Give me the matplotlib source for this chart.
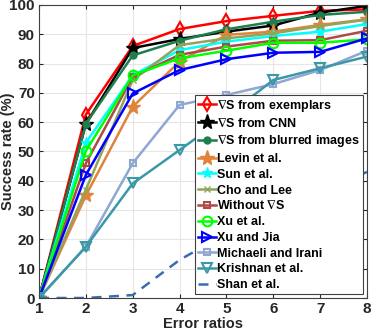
import matplotlib
matplotlib.use("Agg")
import matplotlib.pyplot as plt

plt.rcParams["font.family"] = ["Liberation Sans", "DejaVu Sans"]
plt.rcParams["font.weight"] = "bold"
plt.rcParams["mathtext.default"] = "regular"

error_ratios = [1, 2, 3, 4, 5, 6, 7, 8]

# success rates (%)
exemplars = [0, 62.6, 86.0, 91.8, 94.5, 96.3, 98.0, 98.5]
cnn = [0, 59.4, 85.3, 88.4, 90.9, 93.0, 97.4, 99.7]
blurred = [0, 59.5, 82.8, 87.8, 91.7, 94.3, 96.6, 97.7]
levin = [0, 35.0, 65.3, 80.7, 89.8, 90.9, 93.2, 95.1]
sun = [0, 53.0, 76.0, 84.6, 87.5, 89.4, 90.9, 93.5]
cho = [0, 37.0, 74.4, 86.3, 88.6, 90.3, 92.8, 95.0]
without = [0, 46.0, 75.5, 83.0, 85.8, 87.8, 88.0, 91.2]
xu = [0, 50.2, 76.0, 81.8, 84.4, 87.1, 87.1, 88.3]
xu_jia = [0, 42.0, 69.8, 77.8, 81.5, 83.7, 84.0, 88.6]
michaeli = [0, 17.5, 46.0, 65.9, 69.3, 73.0, 77.8, 84.4]
krishnan = [0, 17.5, 39.1, 50.5, 62.0, 74.4, 78.4, 82.4]
shan = [0, 0, 1.0, 13.0, 22.0, 30.0, 36.5, 43.0]

labels = [
    r"$\nabla$S from exemplars",
    r"$\nabla$S from CNN",
    r"$\nabla$S from blurred images",
    "Levin et al.",
    "Sun et al.",
    "Cho and Lee",
    r"Without $\nabla$S",
    "Xu et al.",
    "Xu and Jia",
    "Michaeli and Irani",
    "Krishnan et al.",
    "Shan et al.",
]

fig = plt.figure(figsize=(3.73, 3.32), dpi=100)
ax = fig.add_axes([0.1046, 0.1024, 0.8794, 0.8826])

lw = 1.8
ax.plot(error_ratios, exemplars, color="#ff0000", lw=lw, marker="d", ms=7, mfc="none", mew=1.5, label=labels[0])
ax.plot(error_ratios, cnn, color="#000000", lw=lw, marker="*", ms=11, label=labels[1])
ax.plot(error_ratios, blurred, color="#1e7e4e", lw=lw, marker="o", ms=5, label=labels[2])
ax.plot(error_ratios, levin, color="#e0843c", lw=lw, marker="*", ms=11, label=labels[3])
ax.plot(error_ratios, sun, color="#00ffff", lw=lw, marker="*", ms=8, label=labels[4])
ax.plot(error_ratios, cho, color="#92a45a", lw=lw, marker="x", ms=5, label=labels[5])
ax.plot(error_ratios, without, color="#b04848", lw=lw, marker="s", ms=5, mfc="none", mew=1.5, label=labels[6])
ax.plot(error_ratios, xu, color="#00ff00", lw=lw, marker="o", ms=7, mfc="none", mew=1.5, label=labels[7])
ax.plot(error_ratios, xu_jia, color="#0000ff", lw=lw, marker=">", ms=7, mfc="none", mew=1.5, label=labels[8])
ax.plot(error_ratios, michaeli, color="#8fa7d2", lw=lw, marker="s", ms=5, mfc="none", mew=1.5, label=labels[9])
ax.plot(error_ratios, krishnan, color="#3a98a8", lw=lw, marker="v", ms=7, mfc="none", mew=1.5, label=labels[10])
ax.plot(error_ratios, shan, color="#3c6cb0", lw=lw, ls=(0, (4, 3)), label=labels[11])

ax.set_xlim(1, 8)
ax.set_ylim(0, 100)
ax.set_xticks(error_ratios)
ax.set_yticks(range(0, 101, 10))
ax.tick_params(direction="in", labelsize=11, length=3, colors="#262626", top=True, right=True, pad=3)
for lab in ax.get_xticklabels() + ax.get_yticklabels():
    lab.set_fontweight("bold")
ax.grid(True, color="#e6e6e6", lw=0.8)
ax.set_axisbelow(True)
for sp in ax.spines.values():
    sp.set_color("#404040")
    sp.set_linewidth(0.8)

ax.set_xlabel("Error ratios", fontsize=10.5, fontweight="bold", color="#262626")
ax.set_ylabel("Success rate (%)", fontsize=10.5, fontweight="bold", color="#262626")
ax.xaxis.set_label_coords(0.5, -0.066)
ax.yaxis.set_label_coords(-0.074, 0.5)

leg = ax.legend(loc="lower right", prop={"weight": "bold", "size": 9}, frameon=True,
                fancybox=False, edgecolor="#404040", handlelength=1.4, handletextpad=0.15,
                labelspacing=0.3, borderpad=0.25, borderaxespad=0.3, framealpha=1)
leg.get_frame().set_linewidth(0.8)

fig.savefig("out.png", dpi=100)
